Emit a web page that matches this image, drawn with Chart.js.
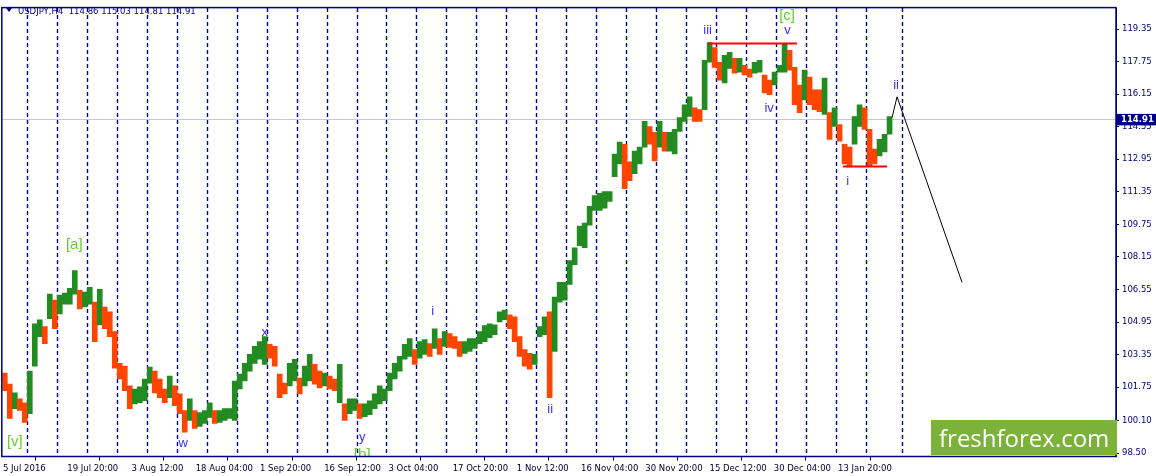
<!DOCTYPE html>
<html>
<head>
<meta charset="utf-8">
<script src="https://cdn.jsdelivr.net/npm/chart.js@4.4.0/dist/chart.umd.min.js"></script>
<style>
  html, body { margin: 0; padding: 0; background: #fff; }
  #wrap { width: 1156px; height: 476px; position: relative; }
</style>
</head>
<body>
<div id="wrap"><canvas id="chart"></canvas></div>
<script>
// USDJPY H4, one block = 5 H4 bars (high / low of the block)
const symbolTitle = "USDJPY,H4  114.86 115.03 114.81 114.91";
const lastPrice = 114.91;
const groupBars = 5;

const highs = [
  102.44, 101.90, 101.47, 101.18, 100.98, 102.54, 104.86, 105.06, 104.72, 106.32,
  106.03, 106.27, 106.37, 106.61, 107.48, 106.51, 106.42, 106.66, 105.93, 106.56,
  105.69, 105.45, 104.48, 102.92, 102.78, 101.81, 101.66, 101.76, 102.15, 102.73,
  102.54, 102.15, 101.66, 102.29, 101.81, 101.42, 100.60, 101.18, 100.60, 100.50,
  100.60, 100.98, 100.60, 100.60, 100.69, 100.69, 102.05, 102.39, 102.92, 103.36,
  103.75, 103.99, 104.24, 103.85, 103.75, 102.39, 101.95, 102.92,
  103.12, 102.19, 102.78, 103.36, 102.87, 102.54, 102.44, 102.29, 102.15, 102.87,
  100.93, 101.18, 101.18, 100.93, 100.93, 101.08, 101.42, 101.81, 101.66, 102.44,
  102.92, 103.26, 103.85, 104.14, 103.60, 103.99, 104.09, 103.89, 104.62, 104.14,
  104.48, 104.38, 104.23, 103.99, 103.99, 104.14, 104.14, 104.48, 104.77, 104.86,
  104.81, 105.45, 105.54, 105.30, 105.20, 104.23, 103.60, 103.41, 103.36, 104.72,
  105.20, 105.45, 106.17, 106.90, 106.90,
  107.97, 108.60, 109.66, 109.81, 110.64, 111.17, 111.27, 111.36, 111.36, 113.21,
  113.79, 113.69, 112.82, 113.35, 113.55, 114.81, 114.56, 114.27, 114.81, 114.27,
  114.27, 114.42, 115.00, 115.63,
  116.02, 115.48, 115.39, 117.81, 118.69, 118.44, 117.72, 118.06, 118.20, 117.91,
  117.91, 117.57, 117.38, 117.72, 117.81, 117.09, 116.84, 117.23, 117.57, 118.64,
  118.30, 117.47, 116.60, 117.33, 116.99, 116.36, 116.36, 116.94, 115.24, 115.48,
  114.66, 113.69, 113.55, 115.05, 115.63, 115.48, 114.42, 113.45, 113.93, 114.18, 115.05
];
const lows = [
  101.57, 100.21, 100.69, 100.60, 100.01, 100.45, 102.78, 104.23, 103.89, 105.11,
  104.62, 105.35, 105.83, 105.83, 106.32, 105.59, 105.69, 105.83, 103.99, 104.81,
  104.62, 104.23, 102.68, 102.15, 101.57, 100.69, 100.93, 100.98, 101.08, 101.95,
  101.47, 101.23, 100.98, 101.23, 100.84, 100.45, 99.53, 100.11, 99.72, 99.82,
  99.97, 100.26, 99.97, 100.01, 100.11, 100.21, 100.11, 101.66, 102.05, 102.54,
  102.92, 103.12, 102.87, 103.17, 102.78, 101.23, 101.42, 101.81,
  102.05, 101.42, 101.81, 102.05, 101.90, 101.71, 101.81, 101.66, 101.57, 100.98,
  100.11, 100.45, 100.60, 100.21, 100.30, 100.40, 100.69, 100.93, 101.08, 101.57,
  102.15, 102.54, 103.12, 103.26, 102.87, 103.17, 103.36, 103.26, 103.65, 103.36,
  103.75, 103.70, 103.65, 103.26, 103.41, 103.51, 103.65, 103.89, 103.99, 104.18,
  104.33, 104.96, 105.06, 104.62, 103.99, 103.26, 102.78, 102.63, 102.87, 104.23,
  104.33, 101.23, 103.51, 105.93, 106.03,
  106.80, 107.77, 108.70, 108.60, 109.71, 110.44, 110.44, 110.54, 110.88, 112.09,
  112.72, 111.51, 111.90, 112.24, 112.72, 113.55, 113.69, 112.87, 113.55, 113.35,
  113.35, 113.21, 114.32, 114.81,
  115.05, 114.81, 114.81, 115.39, 117.72, 117.47, 116.84, 116.70, 117.42, 117.18,
  117.23, 117.09, 116.99, 117.18, 117.23, 116.21, 116.12, 116.60, 117.23, 117.23,
  117.33, 115.63, 115.24, 115.87, 115.63, 115.39, 115.29, 115.15, 113.93, 114.56,
  113.84, 112.72, 112.57, 113.69, 114.56, 114.42, 112.62, 112.72, 113.11, 113.31, 114.18
];

const yTicks = [119.35, 117.75, 116.15, 114.55, 112.95, 111.35, 109.75, 108.15,
                106.55, 104.95, 103.35, 101.75, 100.10, 98.50];
const timeLabels = ["5 Jul 2016", "19 Jul 20:00", "3 Aug 12:00", "18 Aug 04:00",
  "1 Sep 20:00", "16 Sep 12:00", "3 Oct 04:00", "17 Oct 20:00", "1 Nov 12:00",
  "16 Nov 04:00", "30 Nov 20:00", "15 Dec 12:00", "30 Dec 04:00", "13 Jan 20:00"];
const labelStep = 64.25;   // H4 bars between time labels
const weekLines = Array.from({ length: 29 }, (_, k) => 24.3 + 30 * k).concat([900]);

// levels and forecast (bar index, price)
const topLevel = { from: 706, to: 795, price: 118.64 };
const bottomLevel = { from: 841, to: 885, price: 112.59 };
const forecastBars = [890, 895, 960];
const forecastPrices = [115.00, 116.02, 106.90];

// Elliott wave labels
const waveText  = ["[v]", "[a]", "w", "x", "y", "[b]", "i", "ii", "iii", "[c]", "v", "iv", "i", "ii"];
const waveBar   = [12.5, 72, 181, 262.5, 360, 360, 430.5, 548, 705.5, 785, 785.5, 767, 845.5, 894];
const wavePrice = [99.04, 108.74, 98.99, 104.43, 99.29, 98.41, 105.49, 100.64, 119.29, 120.02, 119.29, 115.44, 111.85, 116.58];

const navy = "#000080";
const bull = "#228b22";
const bear = "#ff4500";

const blocks = highs.map((h, i) => ({ x: i * groupBars + groupBars / 2, y: [lows[i], h] }));
const blockColors = highs.map((h, i) => {
  if (i === 0) return bear;
  const mid = (h + lows[i]) / 2, prev = (highs[i - 1] + lows[i - 1]) / 2;
  return mid >= prev ? bull : bear;
});

const decor = {
  id: "decor",
  beforeDatasetsDraw(chart) {
    const { ctx, chartArea: a, scales: { x, y } } = chart;
    ctx.save();
    const py = Math.round(y.getPixelForValue(lastPrice)) + 0.5;
    ctx.strokeStyle = "#c8c8c8";
    ctx.lineWidth = 1;
    ctx.beginPath(); ctx.moveTo(a.left, py); ctx.lineTo(a.right, py); ctx.stroke();
    ctx.strokeStyle = "#00009a";
    ctx.lineWidth = 1.4;
    ctx.setLineDash([4, 3]);
    weekLines.forEach(b => {
      const px = Math.round(x.getPixelForValue(b)) + 0.5;
      ctx.beginPath(); ctx.moveTo(px, a.top); ctx.lineTo(px, a.bottom); ctx.stroke();
    });
    ctx.restore();
  },
  afterDatasetsDraw(chart) {
    const { ctx, chartArea: a, scales: { x, y } } = chart;
    ctx.save();
    ctx.beginPath(); ctx.rect(a.left, a.top, a.right - a.left, a.bottom - a.top); ctx.clip();
    ctx.textAlign = "center";
    ctx.textBaseline = "middle";
    waveText.forEach((t, i) => {
      const green = t.startsWith("[");
      ctx.font = green ? "15px 'Liberation Sans', Arial" : "13px 'Liberation Sans', Arial";
      ctx.fillStyle = green ? "#66cc33" : "#3c32f0";
      ctx.fillText(t, x.getPixelForValue(waveBar[i]), y.getPixelForValue(wavePrice[i]));
    });
    ctx.restore();
  },
  afterDraw(chart) {
    const { ctx, chartArea: a, scales: { y } } = chart;
    ctx.save();
    // frame
    ctx.strokeStyle = navy;
    ctx.lineWidth = 1.5;
    ctx.strokeRect(a.left - 0.5, a.top - 0.5, a.right - a.left + 0.5, a.bottom - a.top + 0.5);
    // title
    ctx.fillStyle = navy;
    ctx.beginPath(); ctx.moveTo(6, 8); ctx.lineTo(12, 8); ctx.lineTo(9, 12); ctx.closePath(); ctx.fill();
    ctx.font = "8.5px 'DejaVu Sans'";
    ctx.textBaseline = "alphabetic";
    ctx.textAlign = "left";
    ctx.fillText(symbolTitle, 18, 14);
    // current price box
    const py = y.getPixelForValue(lastPrice);
    ctx.fillStyle = navy;
    ctx.fillRect(a.right + 1, py - 5.5, chart.width - a.right - 1, 11.5);
    ctx.fillStyle = "#ffffff";
    ctx.font = "bold 8.5px 'DejaVu Sans'";
    ctx.textBaseline = "middle";
    ctx.fillText(lastPrice.toFixed(2), a.right + 5, py + 0.5);
    // watermark
    const wx = a.right - 185, wy = a.bottom - 36.5;
    ctx.fillStyle = "#7db23a";
    ctx.fillRect(wx, wy, 186, 35);
    ctx.fillStyle = "#ffffff";
    ctx.font = "28px 'Open Sans'";
    const w = ctx.measureText("freshforex.com").width;
    const size = 28 * 170 / w;
    ctx.font = size.toFixed(1) + "px 'Open Sans'";
    ctx.textBaseline = "alphabetic";
    ctx.fillText("freshforex.com", wx + 8, wy + 27);
    ctx.restore();
  }
};

new Chart(document.getElementById("chart"), {
  type: "bar",
  data: {
    datasets: [
      {
        type: "bar",
        data: blocks,
        backgroundColor: blockColors,
        borderWidth: 0,
        barPercentage: 1,
        categoryPercentage: 1,
        order: 3
      },
      {
        type: "line",
        data: [{ x: topLevel.from, y: topLevel.price }, { x: topLevel.to, y: topLevel.price }],
        borderColor: "#ff0000", borderWidth: 2, pointRadius: 0, order: 1
      },
      {
        type: "line",
        data: [{ x: bottomLevel.from, y: bottomLevel.price }, { x: bottomLevel.to, y: bottomLevel.price }],
        borderColor: "#ff0000", borderWidth: 2, pointRadius: 0, order: 1
      },
      {
        type: "line",
        data: forecastBars.map((b, i) => ({ x: b, y: forecastPrices[i] })),
        borderColor: "#000000", borderWidth: 1, pointRadius: 0, tension: 0, order: 1
      }
    ]
  },
  options: {
    responsive: true,
    maintainAspectRatio: false,
    animation: false,
    devicePixelRatio: 1,
    layout: { padding: { left: 2, top: 2, right: 0, bottom: 0 } },
    plugins: { legend: { display: false }, tooltip: { enabled: false } },
    scales: {
      x: {
        type: "linear",
        min: 0,
        max: 1114,
        offset: false,
        afterFit: s => { s.height = 19.5; },
        afterBuildTicks: s => { s.ticks = timeLabels.map((_, k) => ({ value: 0.7 + k * labelStep })); },
        grid: { drawOnChartArea: false, tickLength: 4, color: navy },
        border: { color: navy, width: 1 },
        ticks: {
          autoSkip: false, maxRotation: 0, align: "start", padding: 3,
          color: "#000033", font: { family: "DejaVu Sans", size: 8.5 },
          callback: (v, i) => timeLabels[i]
        }
      },
      y: {
        position: "right",
        min: 98.34,
        max: 120.38,
        afterFit: s => { s.width = 40; },
        afterBuildTicks: s => { s.ticks = yTicks.map(v => ({ value: v })); },
        grid: { drawOnChartArea: false, tickLength: 3, color: navy },
        border: { color: navy, width: 1 },
        ticks: {
          padding: 3, color: "#00007a", font: { family: "DejaVu Sans", size: 8.5 },
          callback: v => v.toFixed(2)
        }
      }
    }
  },
  plugins: [decor]
});
</script>
</body>
</html>
